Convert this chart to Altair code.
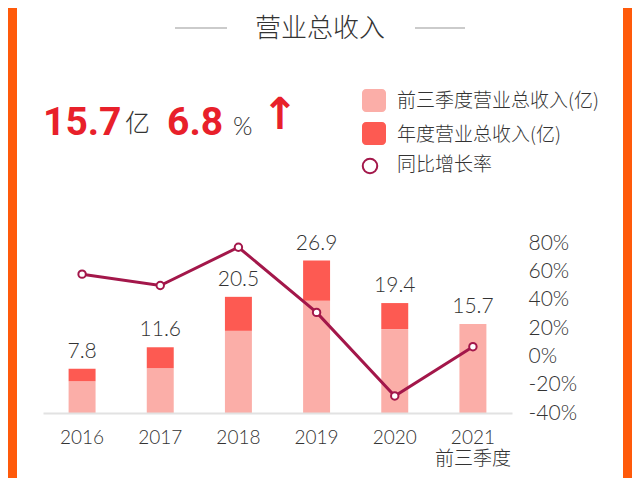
import altair as alt
import pandas as pd

# ---- data ----
years = ["2016", "2017", "2018", "2019", "2020", "2021"]
q3_revenue = [5.6, 7.9, 14.5, 19.8, 14.8, 15.7]          # 前三季度营业总收入(亿)
annual_revenue = [7.8, 11.6, 20.5, 26.9, 19.4, None]      # 年度营业总收入(亿)
label_values = [7.8, 11.6, 20.5, 26.9, 19.4, 15.7]
growth_pct = [58, 50, 77, 31, -28, 6.8]                   # 同比增长率 (%)
pct_ticks = [-40, -20, 0, 20, 40, 60, 80]
legend_labels = ["前三季度营业总收入(亿)", "年度营业总收入(亿)", "同比增长率"]
title_text = "营业总收入"
headline_value = "15.7"
headline_unit = "亿"
headline_growth = "6.8"
headline_pct = "%"
headline_arrow = "↑"

# ---- colours ----
ORANGE = "#ff5a0a"
LIGHT = "#fbaea8"
DARK = "#fd5a52"
LINE = "#a3174a"
RED = "#e8202a"
TXT = "#333333"
NUMFONT = "Lato, Noto Sans CJK SC"
CJK = "Noto Sans CJK SC"
LIGHTW = 300

df = pd.DataFrame({
    "year": years,
    "q3": q3_revenue,
    "annual": annual_revenue,
    "label": label_values,
    "growth": growth_pct,
})
df_annual = df.dropna(subset=["annual"])
one = pd.DataFrame({"k": [0]})

x_enc = alt.X(
    "year:N", sort=years, title=None,
    scale=alt.Scale(paddingInner=0.655, paddingOuter=0.3275),
    axis=alt.Axis(
        domainColor="#e2e2e2", domainWidth=2, ticks=False, tickSize=0,
        labelAngle=0, labelPadding=15, labelFontSize=19, labelFont=NUMFONT,
        labelFontWeight=LIGHTW, labelColor=TXT, labelLineHeight=21, grid=False, zindex=1,
        labelExpr="datum.value == '2021' ? ['2021', '前三季度'] : datum.value",
    ),
)
bar_scale = alt.Scale(domain=[0, 30], nice=False, zero=True)
pct_scale = alt.Scale(domain=[-40, 80], nice=False, zero=False)

# background card
card = alt.Chart(one).mark_rect(color="white").encode(
    x=alt.value(-26), x2=alt.value(580), y=alt.value(-243), y2=alt.value(245)
)

# header lines + title
rule_left = alt.Chart(one).mark_rule(color="#cbcbcb", strokeWidth=2).encode(
    x=alt.value(132), x2=alt.value(184), y=alt.value(-215)
)
rule_right = alt.Chart(one).mark_rule(color="#cbcbcb", strokeWidth=2).encode(
    x=alt.value(372), x2=alt.value(422), y=alt.value(-215)
)
title = alt.Chart(one).mark_text(
    text=title_text, font=CJK, fontSize=26, fontWeight=LIGHTW, color=TXT,
    baseline="middle", align="center"
).encode(x=alt.value(277), y=alt.value(-214))

# headline figures
h1 = alt.Chart(one).mark_text(
    text=headline_value, font="Roboto", fontWeight="bold", fontSize=39, color=RED,
    align="left", baseline="alphabetic"
).encode(x=alt.value(0), y=alt.value(-108))
h2 = alt.Chart(one).mark_text(
    text=headline_unit, font=CJK, fontSize=25, fontWeight=LIGHTW, color=TXT,
    align="left", baseline="alphabetic"
).encode(x=alt.value(82), y=alt.value(-111))
h3 = alt.Chart(one).mark_text(
    text=headline_growth, font="Roboto", fontWeight="bold", fontSize=39, color=RED,
    align="left", baseline="alphabetic"
).encode(x=alt.value(124), y=alt.value(-108))
h4 = alt.Chart(one).mark_text(
    text=headline_pct, font=NUMFONT, fontSize=25, fontWeight=LIGHTW, color=TXT,
    align="left", baseline="alphabetic"
).encode(x=alt.value(190), y=alt.value(-108))
h5 = alt.Chart(one).mark_text(
    text=headline_arrow, font="DejaVu Sans", fontWeight="bold", fontSize=44, color=RED,
    align="center", baseline="middle"
).encode(x=alt.value(237), y=alt.value(-127))

# manual legend
sw1 = alt.Chart(one).mark_rect(color=LIGHT, cornerRadius=4).encode(
    x=alt.value(319), x2=alt.value(343), y=alt.value(-154), y2=alt.value(-131)
)
sw2 = alt.Chart(one).mark_rect(color=DARK, cornerRadius=4).encode(
    x=alt.value(319), x2=alt.value(343), y=alt.value(-121), y2=alt.value(-98)
)
sw3 = alt.Chart(one).mark_point(
    shape="circle", filled=False, stroke=LINE, strokeWidth=2, size=210, opacity=1
).encode(x=alt.value(327), y=alt.value(-77))
lg1 = alt.Chart(one).mark_text(
    text=legend_labels[0], font=CJK, fontSize=19, fontWeight=LIGHTW, color=TXT,
    align="left", baseline="middle"
).encode(x=alt.value(354), y=alt.value(-142))
lg2 = alt.Chart(one).mark_text(
    text=legend_labels[1], font=CJK, fontSize=19, fontWeight=LIGHTW, color=TXT,
    align="left", baseline="middle"
).encode(x=alt.value(354), y=alt.value(-108))
lg3 = alt.Chart(one).mark_text(
    text=legend_labels[2], font=CJK, fontSize=19, fontWeight=LIGHTW, color=TXT,
    align="left", baseline="middle"
).encode(x=alt.value(354), y=alt.value(-78))

# bars
bars_q3 = alt.Chart(df).mark_bar(color=LIGHT).encode(
    x=x_enc, y=alt.Y("q3:Q", scale=bar_scale, axis=None)
)
bars_annual = alt.Chart(df_annual).mark_bar(color=DARK).encode(
    x=x_enc, y=alt.Y("annual:Q", scale=bar_scale, axis=None), y2="q3:Q"
)
bar_labels = alt.Chart(df).mark_text(
    font=NUMFONT, fontSize=21, fontWeight=LIGHTW, color=TXT, baseline="alphabetic", dy=-11
).encode(
    x=x_enc, y=alt.Y("label:Q", scale=bar_scale, axis=None),
    text=alt.Text("label:Q", format=".1f"),
)

# growth line
line = alt.Chart(df).mark_line(color=LINE, strokeWidth=3).encode(
    x=x_enc,
    y=alt.Y(
        "growth:Q", scale=pct_scale, title=None,
        axis=alt.Axis(
            orient="right", values=pct_ticks, labelExpr="datum.value + '%'",
            domain=False, ticks=False, tickSize=0, grid=False, labelPadding=16,
            labelFontSize=21, labelFont=NUMFONT, labelFontWeight=LIGHTW,
            labelColor=TXT, zindex=1,
        ),
    ),
)
points = alt.Chart(df).mark_point(
    shape="circle", filled=True, fill="white", stroke=LINE, strokeWidth=2, size=55, opacity=1
).encode(x=x_enc, y=alt.Y("growth:Q", scale=pct_scale, axis=None))

chart = alt.layer(
    card, rule_left, rule_right, title, h1, h2, h3, h4, h5,
    sw1, sw2, sw3, lg1, lg2, lg3,
    bars_q3, bars_annual, line, points, bar_labels,
).resolve_scale(y="independent").properties(
    width=469, height=170,
    autosize=alt.AutoSizeParams(type="none"),
    padding={"left": 35, "top": 235, "right": 120, "bottom": 65},
    background=ORANGE,
).configure_view(stroke=None)

chart.save("out.html", embed_options={"renderer": "svg", "actions": False})
